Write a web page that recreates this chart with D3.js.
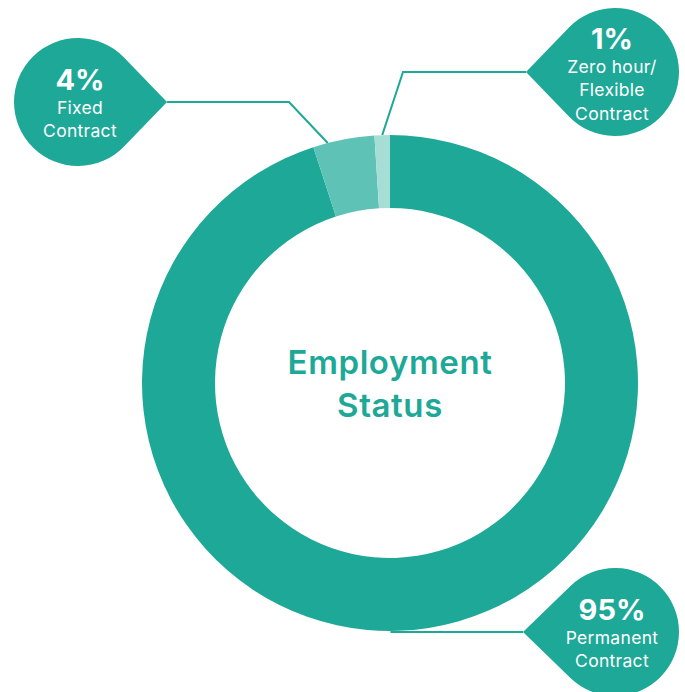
<!DOCTYPE html>
<html>
<head>
<meta charset="utf-8">
<script src="https://cdn.jsdelivr.net/npm/d3@7"></script>
<style>
  html, body { margin: 0; padding: 0; background: #ffffff; }
  svg { display: block; font-family: "Inter", "Lato", sans-serif; }
</style>
</head>
<body>
<div id="chart"></div>
<script>
// data
const categories = ["Permanent Contract", "Fixed Contract", "Zero hour/ Flexible Contract"];
const values = [95, 4, 1];
const labelLines = [["Permanent", "Contract"], ["Fixed", "Contract"], ["Zero hour/", "Flexible", "Contract"]];
const sliceColors = ["#1ea897", "#5ec3b6", "#a6ddd5"];

const width = 685, height = 692;
const cx = 390, cy = 383;
const outerRadius = 248, innerRadius = 175;
const teal = "#1ea897";

// callout bubbles: centre, tip, elbow and where on the slice the leader lands
const callouts = [
  { cx: 615, cy: 632, tipX: 523, elbowX: null, at: 0.526 },
  { cx: 78, cy: 102, tipX: 167, elbowX: 289, at: 0.24 },
  { cx: 615, cy: 72, tipX: 526, elbowX: 403, at: 0.5 }
];
const bubbleR = 64;

const svg = d3.select("#chart")
  .append("svg")
  .attr("width", width)
  .attr("height", height);

const pie = d3.pie().sort(null).value(d => d);
const arcs = pie(values);

const arcGenerator = d3.arc()
  .innerRadius(innerRadius)
  .outerRadius(outerRadius);

// leader lines (drawn under the ring)
const leaders = svg.append("g");
arcs.forEach((d, i) => {
  const c = callouts[i];
  const a = d.startAngle + (d.endAngle - d.startAngle) * c.at;
  const ex = cx + outerRadius * Math.sin(a);
  const ey = cy - outerRadius * Math.cos(a);
  const pts = [[c.tipX, c.cy]];
  if (c.elbowX !== null) pts.push([c.elbowX, c.cy]);
  pts.push(c.elbowX === null ? [ex, c.cy] : [ex, ey]);
  leaders.append("path")
    .attr("d", d3.line()(pts))
    .attr("fill", "none")
    .attr("stroke", teal)
    .attr("stroke-width", 2);
});

const ring = svg.append("g")
  .attr("transform", "translate(" + cx + "," + cy + ")");

ring.selectAll("path")
  .data(arcs)
  .enter()
  .append("path")
  .attr("d", arcGenerator)
  .style("fill", (_, i) => sliceColors[i]);

// centre title
svg.append("text")
  .attr("text-anchor", "middle")
  .style("fill", teal)
  .style("font-size", "33px")
  .style("font-weight", 600)
  .style("letter-spacing", "0.6px")
  .selectAll("tspan")
  .data(["Employment", "Status"])
  .enter()
  .append("tspan")
  .attr("x", cx)
  .attr("y", (_, i) => 374 + i * 43)
  .text(d => d);

// teardrop bubbles
function teardrop(c) {
  const dx = c.tipX - c.cx;
  const d = Math.abs(dx);
  const dir = dx > 0 ? 0 : Math.PI;
  const t = Math.acos(bubbleR / d);
  const p2 = [c.cx + bubbleR * Math.cos(dir + t), c.cy + bubbleR * Math.sin(dir + t)];
  const path = d3.path();
  path.moveTo(c.tipX, c.cy);
  path.lineTo(p2[0], p2[1]);
  path.arc(c.cx, c.cy, bubbleR, dir + t, dir - t + 2 * Math.PI);
  path.closePath();
  return path.toString();
}

const bubbles = svg.append("g");
arcs.forEach((d, i) => {
  const c = callouts[i];
  bubbles.append("path")
    .attr("d", teardrop(c))
    .style("fill", teal);

  const lines = labelLines[i];
  const top = c.cy - (lines.length === 3 ? 23 : 12);
  const tx = c.cx + (c.tipX > c.cx ? 2 : -3);

  bubbles.append("text")
    .attr("x", tx)
    .attr("y", top)
    .attr("text-anchor", "middle")
    .style("fill", "#ffffff")
    .style("font-size", "29px")
    .style("font-weight", 700)
    .text(values[i] + "%");

  bubbles.append("text")
    .attr("text-anchor", "middle")
    .style("fill", "#ffffff")
    .style("font-size", "17.5px")
    .style("font-weight", 400)
    .style("letter-spacing", "0.3px")
    .selectAll("tspan")
    .data(lines)
    .enter()
    .append("tspan")
    .attr("x", tx)
    .attr("y", (_, j) => top + 23.5 + j * 23.5)
    .text(t => t);
});
</script>
</body>
</html>
